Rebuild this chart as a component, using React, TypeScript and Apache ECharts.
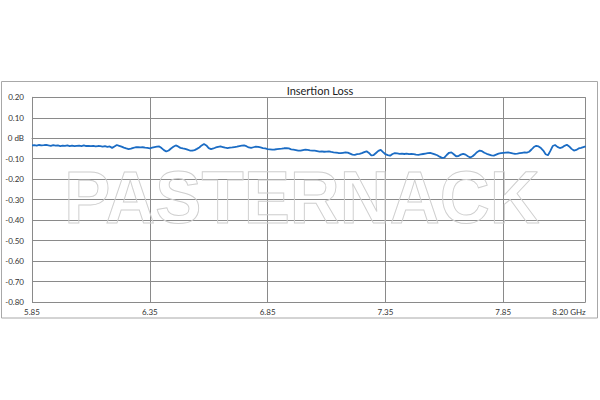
import React, { useEffect, useRef } from "react";
import * as echarts from "echarts";

const title = "Insertion Loss";
const watermark = "PASTERNACK";
const freqStart = 5.85;
const freqEnd = 8.2;
const xTickStep = 0.5;
const yTicks = [0.2, 0.1, 0, -0.1, -0.2, -0.3, -0.4, -0.5, -0.6, -0.7, -0.8];

// frequency in GHz, 0.01 GHz steps from 5.85 to 8.20
const lossDb = [
  -0.035, -0.034, -0.036, -0.033, -0.035, -0.034, -0.032, -0.035, -0.037, -0.034,
  -0.036, -0.035, -0.038, -0.036, -0.037, -0.035, -0.038, -0.036, -0.039, -0.037,
  -0.036, -0.038, -0.035, -0.038, -0.037, -0.039, -0.037, -0.040, -0.038, -0.039,
  -0.041, -0.039, -0.042, -0.040, -0.047, -0.040, -0.033, -0.037, -0.041, -0.046,
  -0.050, -0.053, -0.051, -0.047, -0.044, -0.043, -0.045, -0.044, -0.046, -0.047,
  -0.049, -0.046, -0.043, -0.041, -0.040, -0.048, -0.058, -0.065, -0.060, -0.050,
  -0.042, -0.035, -0.040, -0.047, -0.050, -0.052, -0.056, -0.060, -0.061, -0.058,
  -0.052, -0.045, -0.035, -0.028, -0.035, -0.048, -0.053, -0.050, -0.045, -0.042,
  -0.040, -0.043, -0.046, -0.048, -0.046, -0.045, -0.043, -0.041, -0.038, -0.036,
  -0.035, -0.039, -0.045, -0.047, -0.044, -0.041, -0.042, -0.045, -0.048, -0.050,
  -0.053, -0.054, -0.056, -0.055, -0.053, -0.052, -0.051, -0.049, -0.048, -0.050,
  -0.054, -0.056, -0.058, -0.060, -0.061, -0.058, -0.056, -0.057, -0.059, -0.060,
  -0.061, -0.063, -0.065, -0.064, -0.066, -0.065, -0.064, -0.067, -0.069, -0.070,
  -0.072, -0.073, -0.071, -0.069, -0.070, -0.075, -0.080, -0.081, -0.078, -0.076,
  -0.073, -0.068, -0.064, -0.072, -0.084, -0.082, -0.072, -0.062, -0.057, -0.068,
  -0.078, -0.082, -0.085, -0.077, -0.073, -0.074, -0.076, -0.075, -0.077, -0.075,
  -0.078, -0.077, -0.078, -0.080, -0.081, -0.079, -0.077, -0.075, -0.073, -0.072,
  -0.075, -0.079, -0.083, -0.090, -0.096, -0.095, -0.082, -0.071, -0.069, -0.078,
  -0.088, -0.087, -0.080, -0.076, -0.080, -0.088, -0.094, -0.088, -0.078, -0.067,
  -0.060, -0.063, -0.071, -0.076, -0.080, -0.084, -0.085, -0.080, -0.075, -0.073,
  -0.071, -0.070, -0.069, -0.071, -0.074, -0.076, -0.075, -0.073, -0.071, -0.069,
  -0.070, -0.066, -0.055, -0.043, -0.037, -0.040, -0.048, -0.060, -0.078, -0.083,
  -0.062, -0.038, -0.033, -0.042, -0.048, -0.045, -0.037, -0.032, -0.040, -0.052,
  -0.060, -0.057, -0.050, -0.047, -0.043, -0.040,
];
const freqStepGHz = 0.01;

export default function App() {
  const ref = useRef<HTMLDivElement>(null);
  useEffect(() => {
    document.body.style.margin = "0";
    if (!ref.current) return;
    const chart = echarts.init(ref.current, null, { renderer: "svg" });
    const data = lossDb.map((v, i) => [+(i * freqStepGHz).toFixed(4), v]);
    const span = +(freqEnd - freqStart).toFixed(4);
    const font = "Lato, 'Open Sans', sans-serif";
    chart.setOption({
      animation: false,
      backgroundColor: "#ffffff",
      grid: { left: 32, right: 14.3, top: 97.3, bottom: 98 },
      xAxis: {
        type: "value",
        min: 0,
        max: span,
        interval: xTickStep,
        axisLine: { show: true, lineStyle: { color: "#8a8a8a", width: 1 } },
        axisTick: { show: false },
        splitLine: { show: true, lineStyle: { color: "#8a8a8a", width: 1 } },
        axisLabel: {
          color: "#333",
          fontSize: 8,
          fontFamily: font,
          margin: 6,
          alignMaxLabel: "right",
          formatter: (v: number) => {
            const f = v + freqStart;
            if (Math.abs(v - span) < 1e-6) return "{end|8.20 GHz}";
            return f.toFixed(2);
          },
          rich: {
            end: { fontSize: 8, fontFamily: font, color: "#333", padding: [0, 0, 3, 0] },
          },
        },
      },
      yAxis: {
        type: "value",
        min: yTicks[yTicks.length - 1],
        max: yTicks[0],
        interval: 0.1,
        axisLine: { show: true, lineStyle: { color: "#8a8a8a", width: 1 } },
        axisTick: { show: false },
        splitLine: { show: true, lineStyle: { color: "#8a8a8a", width: 1 } },
        axisLabel: {
          color: "#333",
          fontSize: 8,
          fontFamily: font,
          margin: 8,
          formatter: (v: number) => (Math.abs(v) < 1e-6 ? "0 dB" : v.toFixed(2)),
        },
      },
      series: [
        {
          type: "line",
          data,
          showSymbol: false,
          symbol: "none",
          lineStyle: { color: "#1b6cc4", width: 1.8 },
          z: 5,
        },
      ],
      graphic: [
        {
          type: "rect",
          shape: { x: 1.5, y: 81.5, width: 596, height: 236.5 },
          style: { fill: "none", stroke: "#a8a8a8", lineWidth: 1 },
          silent: true,
        },
        {
          type: "text",
          x: 320,
          y: 90,
          style: {
            text: title,
            fill: "#222",
            font: "11px Lato, 'Open Sans', sans-serif",
            textAlign: "center",
            textVerticalAlign: "middle",
          },
        },
        {
          type: "text",
          x: 302,
          y: 197,
          scaleX: 0.935,
          style: {
            text: watermark,
            fill: "none",
            stroke: "#cfcfcf",
            lineWidth: 1,
            font: "bold 74px 'Liberation Sans', Arial, sans-serif",
            textAlign: "center",
            textVerticalAlign: "middle",
          },
          z: 10,
          silent: true,
        },
      ],
    });
    return () => chart.dispose();
  }, []);
  return <div ref={ref} style={{ width: 600, height: 400 }} />;
}
